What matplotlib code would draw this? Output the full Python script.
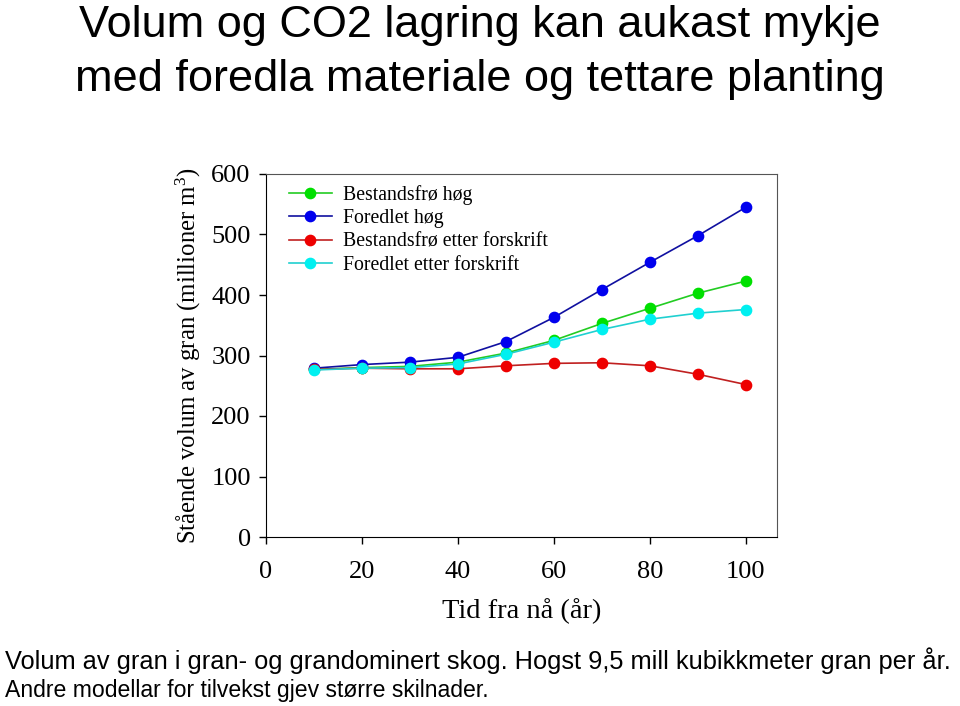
import matplotlib
matplotlib.use("Agg")
import matplotlib.pyplot as plt

years = [10, 20, 30, 40, 50, 60, 70, 80, 90, 100]
bestandsfro_hog = [277, 280, 282, 289, 304, 325, 353, 378, 403, 423]
foredlet_hog = [279, 285, 289, 297, 323, 363, 409, 454, 498, 545]
bestandsfro_forskrift = [277, 279, 278, 278, 283, 287, 288, 283, 269, 252]
foredlet_forskrift = [276, 279, 280, 286, 302, 322, 343, 360, 370, 376]
x_ticks = [0, 20, 40, 60, 80, 100]
y_ticks = [0, 100, 200, 300, 400, 500, 600]

sans = "Liberation Sans"
serif = "Liberation Serif"
plt.rcParams["mathtext.fontset"] = "custom"
plt.rcParams["mathtext.rm"] = serif
plt.rcParams["mathtext.default"] = "rm"

fig = plt.figure(figsize=(9.6, 7.06), dpi=100)
ax = fig.add_axes([266 / 960, 1 - 537 / 706, (777 - 266) / 960, (537 - 174) / 706])

series = [
    ("Bestandsfrø høg", bestandsfro_hog, "#00e000", "#22cc22"),
    ("Foredlet høg", foredlet_hog, "#0000ee", "#1010a0"),
    ("Bestandsfrø etter forskrift", bestandsfro_forskrift, "#ee0000", "#c02020"),
    ("Foredlet etter forskrift", foredlet_forskrift, "#00f0f0", "#20d0d0"),
]
for label, vals, mc, lc in series:
    ax.plot(years, vals, color=lc, lw=1.2, marker="o", ms=7.4,
            markerfacecolor=mc, markeredgecolor=mc, label=label)

ax.set_xlim(0, 106.5)
ax.set_ylim(0, 600)
ax.set_xticks(x_ticks)
ax.set_yticks(y_ticks)
for lab in ax.get_xticklabels() + ax.get_yticklabels():
    lab.set_fontfamily(serif)
    lab.set_fontsize(19)
ax.tick_params(direction="out", length=5, width=1)
ax.tick_params(axis="x", pad=12)
ax.tick_params(axis="y", pad=6)
for s in ["top", "right"]:
    ax.spines[s].set_color("#555555")
ax.set_xlabel("Tid fra nå (år)", fontfamily=serif, fontsize=20.5, labelpad=11)
ax.set_ylabel("Stående volum av gran (millioner m$^3$)", fontfamily=serif,
              fontsize=17.8, labelpad=6)

leg = ax.legend(loc="upper left", prop={"family": serif, "size": 14.2},
                frameon=False, handlelength=2.2, handletextpad=0.55,
                labelspacing=0.23, borderaxespad=0.0,
                bbox_to_anchor=(0.029, 0.992))

fig.text(0.5, 1 - 26 / 706, "Volum og CO2 lagring kan aukast mykje",
         ha="center", va="center", fontfamily=sans, fontsize=32.5)
fig.text(0.5, 1 - 80 / 706, "med foredla materiale og tettare planting",
         ha="center", va="center", fontfamily=sans, fontsize=32.5)
fig.text(0.005, 1 - 661 / 706, "Volum av gran i gran- og grandominert skog. Hogst 9,5 mill kubikkmeter gran per år.",
         ha="left", va="center", fontfamily=sans, fontsize=18.3)
fig.text(0.005, 1 - 690 / 706, "Andre modellar for tilvekst gjev større skilnader.",
         ha="left", va="center", fontfamily=sans, fontsize=16.6)

fig.savefig("out.png", dpi=100)
